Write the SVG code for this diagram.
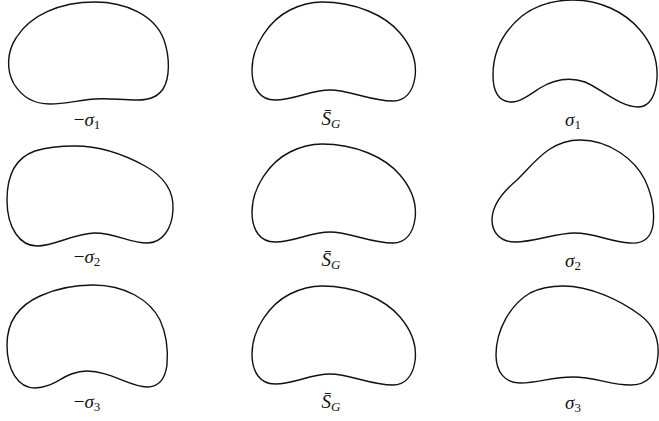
<svg xmlns="http://www.w3.org/2000/svg" width="659" height="421" viewBox="0 0 659 421">
<style>
.s{fill:none;stroke:#111;stroke-width:1.4;stroke-linejoin:round}
.t{font-family:"Liberation Serif","DejaVu Serif",serif;font-size:19px;fill:#111;text-anchor:middle}
.i{font-style:italic}
.sub{font-size:13px;font-style:normal}
.subi{font-size:13px;font-style:italic}
</style>
<defs>
<path id="sg" d="M 322 2 C 355 2, 385 15, 400 33 C 412 47, 417 62, 415 77 C 413 92, 405 101, 393 101 C 370 101, 350 90, 330 90 C 310 90, 295 100, 275 100 C 260 100, 252 88, 252 70 C 252 45, 270 20, 290 10 C 300 5, 310 2, 322 2 Z"/>
</defs>
<g id="shape-minus-sigma1">
<path class="s" d="M 95 2 C 125 2, 155 15, 164 40 C 170 57, 170 78, 163 89 C 157 98, 148 100, 138 100 C 120 100, 110 98, 95 99 C 80 100, 65 104, 50 104 C 35 104, 22 97, 14 84 C 6 70, 7 52, 16 38 C 30 15, 60 2, 95 2 Z"/>
<text class="t" x="87" y="126">−<tspan class="i">σ</tspan><tspan class="sub" dy="3">1</tspan></text>
</g>
<g id="shape-SG-1">
<use href="#sg" class="s"/>
<text class="t i" x="331" y="125">S̄<tspan class="subi" dy="3">G</tspan></text>
</g>
<g id="shape-sigma1">
<path class="s" d="M 573 0 C 600 0, 625 12, 640 30 C 652 44, 658 60, 657 78 C 656 95, 650 107, 638 107 C 620 107, 600 88, 585 82 C 570 77, 555 79, 540 88 C 528 96, 520 102, 512 102 C 498 102, 493 90, 493 75 C 493 50, 505 30, 522 16 C 535 6, 552 0, 573 0 Z"/>
<text class="t" x="573" y="126"><tspan class="i">σ</tspan><tspan class="sub" dy="3">1</tspan></text>
</g>
<g id="shape-minus-sigma2">
<path class="s" d="M 75 146 C 100 146, 125 155, 145 166 C 165 177, 174 192, 173 210 C 172 228, 163 243, 147 243 C 130 243, 115 233, 95 233 C 75 233, 55 246, 37 246 C 20 246, 7 228, 7 200 C 7 175, 15 158, 35 151 C 48 147, 60 146, 75 146 Z"/>
<text class="t" x="87" y="263">−<tspan class="i">σ</tspan><tspan class="sub" dy="3">2</tspan></text>
</g>
<g id="shape-SG-2">
<use href="#sg" class="s" transform="translate(0,142)"/>
<text class="t i" x="331" y="266">S̄<tspan class="subi" dy="3">G</tspan></text>
</g>
<g id="shape-sigma2">
<path class="s" d="M 580 140 C 610 140, 635 160, 645 180 C 652 195, 655 210, 653 225 C 651 238, 643 244, 630 243 C 610 242, 595 233, 575 233 C 555 233, 535 242, 515 242 C 500 242, 492 232, 492 220 C 492 205, 505 190, 517 180 C 535 162, 550 140, 580 140 Z"/>
<text class="t" x="573" y="267"><tspan class="i">σ</tspan><tspan class="sub" dy="3">2</tspan></text>
</g>
<g id="shape-minus-sigma3">
<path class="s" d="M 93 285 C 125 285, 150 300, 160 320 C 167 335, 168 352, 167 365 C 165 380, 158 387, 147 387 C 130 387, 110 371, 87 371 C 65 371, 55 388, 35 388 C 18 388, 7 370, 7 345 C 7 320, 20 305, 40 296 C 55 289, 75 285, 93 285 Z"/>
<text class="t" x="87" y="408">−<tspan class="i">σ</tspan><tspan class="sub" dy="3">3</tspan></text>
</g>
<g id="shape-SG-3">
<use href="#sg" class="s" transform="translate(0,284)"/>
<text class="t i" x="331" y="408">S̄<tspan class="subi" dy="3">G</tspan></text>
</g>
<g id="shape-sigma3">
<path class="s" d="M 563 286 C 590 286, 620 300, 640 315 C 655 326, 659 340, 658 355 C 657 372, 650 385, 630 385 C 610 385, 595 377, 573 377 C 550 377, 540 383, 520 383 C 505 383, 496 372, 496 355 C 496 330, 510 305, 530 293 C 540 288, 550 286, 563 286 Z"/>
<text class="t" x="573" y="409"><tspan class="i">σ</tspan><tspan class="sub" dy="3">3</tspan></text>
</g>
<g id="connectors"/>
</svg>
